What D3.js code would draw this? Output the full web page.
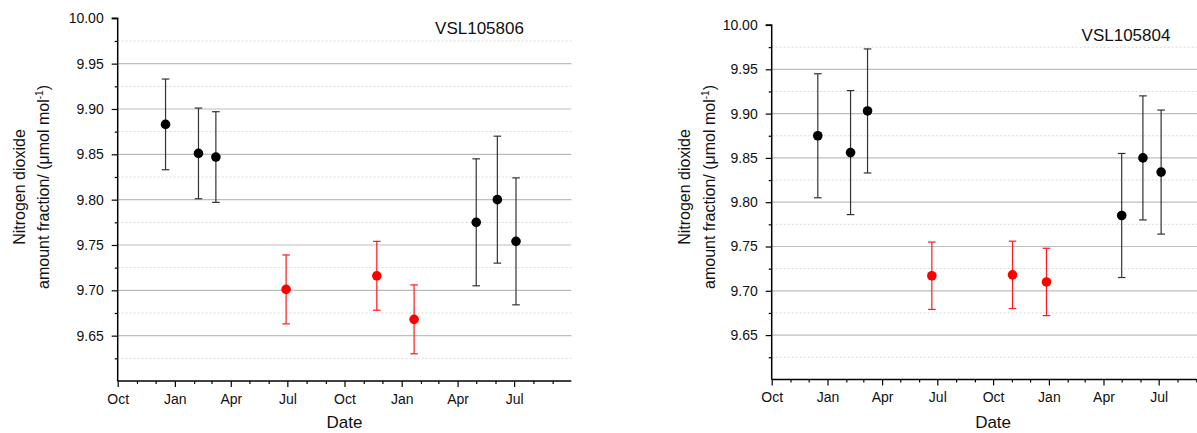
<!DOCTYPE html>
<html>
<head>
<meta charset="utf-8">
<style>
  body { margin: 0; background: #fff; }
  svg { display: block; font-family: "Liberation Sans", Arial, sans-serif; }
</style>
</head>
<body>
<svg id="chart"></svg>
<script src="https://cdn.jsdelivr.net/npm/d3@7"></script>
<script>
// --- data ---
const xTickLabels = ["Oct", "Jan", "Apr", "Jul", "Oct", "Jan", "Apr", "Jul"];
const yTickLabels = ["9.65", "9.70", "9.75", "9.80", "9.85", "9.90", "9.95", "10.00"];
const yTickValues = [9.65, 9.70, 9.75, 9.80, 9.85, 9.90, 9.95, 10.00];

const leftName = "VSL105806";
const leftDates = ["2016-12-17", "2017-02-08", "2017-03-08", "2017-06-29", "2017-11-22", "2018-01-21", "2018-05-01", "2018-06-04", "2018-07-04"];
const leftValues = [9.883, 9.851, 9.847, 9.701, 9.716, 9.668, 9.775, 9.800, 9.754];
const leftErrors = [0.050, 0.050, 0.050, 0.038, 0.038, 0.038, 0.070, 0.070, 0.070];
const leftGroups = ["a", "a", "a", "b", "b", "b", "a", "a", "a"];

const rightName = "VSL105804";
const rightDates = ["2016-12-16", "2017-02-08", "2017-03-08", "2017-06-22", "2017-11-02", "2017-12-28", "2018-05-01", "2018-06-05", "2018-07-05"];
const rightValues = [9.875, 9.856, 9.903, 9.717, 9.718, 9.710, 9.785, 9.850, 9.834];
const rightErrors = [0.070, 0.070, 0.070, 0.038, 0.038, 0.038, 0.070, 0.070, 0.070];
const rightGroups = ["a", "a", "a", "b", "b", "b", "a", "a", "a"];

const startDate = "2016-10-01";
const endDate = "2018-10-01";

// --- drawing ---
const W = 1197, H = 433;
const svg = d3.select("#chart").attr("width", W).attr("height", H);
const parse = d3.utcParse("%Y-%m-%d");
const color = d3.scaleOrdinal().domain(["a", "b"]).range(["#000000", "#ff0000"]);
const barColor = d3.scaleOrdinal().domain(["a", "b"]).range(["#333333", "#ff1a1a"]);

function panel(opt) {
  const x = d3.scaleUtc()
    .domain([parse(startDate), parse(endDate)])
    .range([opt.x0, opt.x1]);
  const y = d3.scaleLinear().domain([9.60, 10.00]).range([opt.y0, opt.y1]);

  const g = svg.append("g");

  // grid
  const minorY = yTickValues.map(v => v - 0.025);
  g.selectAll(".gminor").data(minorY).enter().append("line")
    .attr("x1", opt.x0).attr("x2", opt.x1)
    .attr("y1", d => y(d)).attr("y2", d => y(d))
    .attr("stroke", "#d8d8d8").attr("stroke-width", 1)
    .attr("stroke-dasharray", "2,2");
  g.selectAll(".gmajor").data(yTickValues.slice(0, -1)).enter().append("line")
    .attr("x1", opt.x0).attr("x2", opt.x1)
    .attr("y1", d => y(d)).attr("y2", d => y(d))
    .attr("stroke", "#bdbdbd").attr("stroke-width", 1.2);

  // y axis
  const yAxis = g.append("g").attr("transform", "translate(" + opt.x0 + ",0)")
    .call(d3.axisLeft(y).tickValues(yTickValues).tickSize(6).tickPadding(8)
      .tickFormat((d, i) => yTickLabels[i]));
  g.append("g").attr("transform", "translate(" + opt.x0 + ",0)")
    .call(d3.axisLeft(y).tickValues(minorY).tickSize(3).tickFormat(""))
    .call(a => a.select(".domain").remove());

  // x axis
  const majorX = d3.utcMonth.every(3).range(parse(startDate), parse(endDate));
  const minorX = d3.utcMonth.range(parse(startDate), parse(endDate)).filter(d => d.getUTCMonth() % 3 !== 0);
  const xAxis = g.append("g").attr("transform", "translate(0," + opt.y0 + ")")
    .call(d3.axisBottom(x).tickValues(majorX).tickSize(6).tickPadding(7)
      .tickFormat((d, i) => xTickLabels[i]));
  g.append("g").attr("transform", "translate(0," + opt.y0 + ")")
    .call(d3.axisBottom(x).tickValues(minorX).tickSize(3).tickFormat(""))
    .call(a => a.select(".domain").remove());

  svg.selectAll(".domain").attr("stroke", "#000").attr("stroke-width", 1.5);
  svg.selectAll(".tick line").attr("stroke", "#000").attr("stroke-width", 1.2);
  yAxis.attr("font-size", 14).attr("font-family", "Liberation Sans, Arial, sans-serif");
  xAxis.attr("font-size", 14).attr("font-family", "Liberation Sans, Arial, sans-serif");
  yAxis.selectAll("text").attr("fill", "#111");
  xAxis.selectAll("text").attr("fill", "#111");
  // plain axis lines without the outer tick stubs
  yAxis.select(".domain").attr("d", "M0," + opt.y0 + "V" + opt.y1 + "H-6");
  xAxis.select(".domain").attr("d", "M0,0H" + (opt.x1 - opt.x0)).attr("transform", "translate(" + opt.x0 + ",0)");

  // points
  const pts = opt.dates.map((d, i) => ({
    date: parse(d), v: opt.values[i], e: opt.errors[i], grp: opt.groups[i]
  }));
  const cap = 3.8;
  const pg = g.selectAll(".pt").data(pts).enter().append("g");
  pg.append("line")
    .attr("x1", d => x(d.date)).attr("x2", d => x(d.date))
    .attr("y1", d => y(d.v + d.e)).attr("y2", d => y(d.v - d.e))
    .attr("stroke", d => barColor(d.grp)).attr("stroke-width", 1.2);
  pg.append("line")
    .attr("x1", d => x(d.date) - cap).attr("x2", d => x(d.date) + cap)
    .attr("y1", d => y(d.v + d.e)).attr("y2", d => y(d.v + d.e))
    .attr("stroke", d => barColor(d.grp)).attr("stroke-width", 1.2);
  pg.append("line")
    .attr("x1", d => x(d.date) - cap).attr("x2", d => x(d.date) + cap)
    .attr("y1", d => y(d.v - d.e)).attr("y2", d => y(d.v - d.e))
    .attr("stroke", d => barColor(d.grp)).attr("stroke-width", 1.2);
  pg.append("circle")
    .attr("cx", d => x(d.date)).attr("cy", d => y(d.v)).attr("r", 4.8)
    .attr("fill", d => color(d.grp));

  // title
  g.append("text").attr("x", opt.titleX).attr("y", opt.titleY)
    .attr("text-anchor", "middle").attr("font-size", 17).attr("fill", "#111")
    .text(opt.name);

  // axis titles
  g.append("text").attr("x", (opt.x0 + opt.x1) / 2).attr("y", 428)
    .attr("text-anchor", "middle").attr("font-size", 17).attr("fill", "#111")
    .text("Date");

  const yl = g.append("g").attr("transform", "translate(0," + opt.labelY + ") rotate(-90)");
  yl.append("text").attr("x", 0).attr("y", opt.label1X)
    .attr("text-anchor", "middle").attr("font-size", 16).attr("fill", "#111")
    .text("Nitrogen dioxide");
  const t2 = yl.append("text").attr("x", 0).attr("y", opt.label2X)
    .attr("text-anchor", "middle").attr("font-size", 16).attr("fill", "#111");
  t2.append("tspan").text("amount fraction/ (\u03bcmol mol");
  t2.append("tspan").attr("font-size", 10).attr("dy", -6).text("-1");
  t2.append("tspan").attr("dy", 6).text(")");
}

panel({
  name: leftName, dates: leftDates, values: leftValues, errors: leftErrors, groups: leftGroups,
  x0: 117.7, x1: 571.3, y0: 381, y1: 18.3,
  titleX: 479.5, titleY: 34, labelY: 187, label1X: 25, label2X: 49
});
panel({
  name: rightName, dates: rightDates, values: rightValues, errors: rightErrors, groups: rightGroups,
  x0: 771.7, x1: 1214.5, y0: 379.4, y1: 25,
  titleX: 1126, titleY: 41, labelY: 187, label1X: 690, label2X: 715
});
</script>
</body>
</html>
